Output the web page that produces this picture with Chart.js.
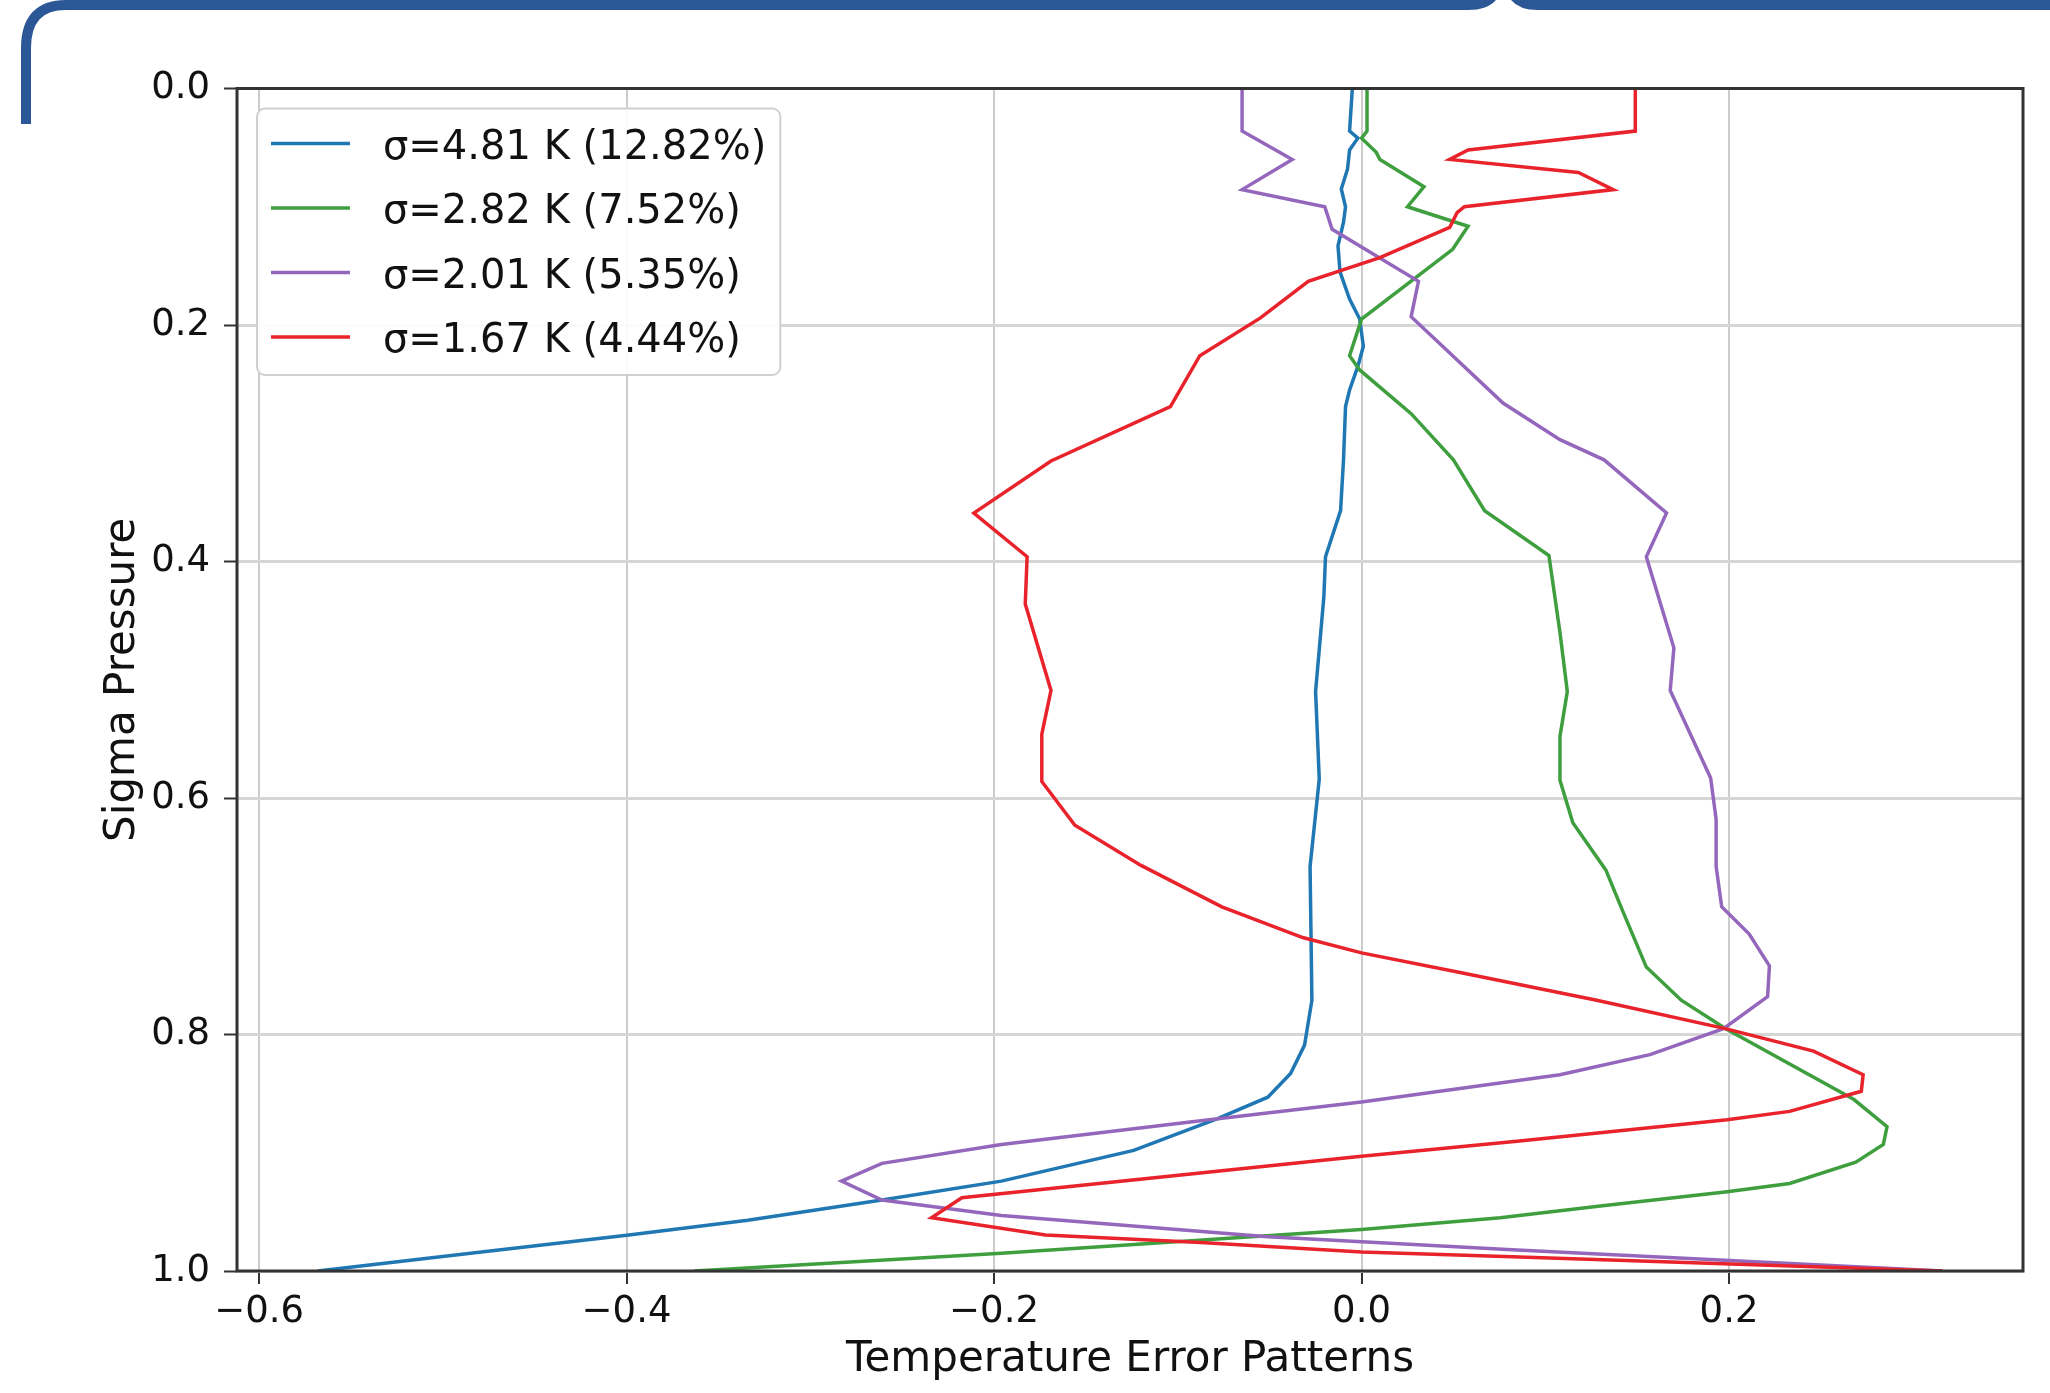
<!DOCTYPE html>
<html>
<head>
<meta charset="utf-8">
<title>Temperature error patterns</title>
<script src="https://cdn.jsdelivr.net/npm/chart.js@4.4.1/dist/chart.umd.min.js"></script>
<style>
  html, body { margin: 0; padding: 0; background: #fff; }
  #wrap { width: 2050px; height: 1393px; }
</style>
</head>
<body>
<div id="wrap"><canvas id="profile" width="2050" height="1393"></canvas></div>
<script>
// sigma levels and error values, one pair of arrays per pattern
const seriesLabels = ['σ=4.81 K (12.82%)', 'σ=2.82 K (7.52%)', 'σ=2.01 K (5.35%)', 'σ=1.67 K (4.44%)'];

const sigma481 = [0, 0.036, 0.042, 0.052, 0.068, 0.085, 0.100, 0.113, 0.133, 0.155, 0.178, 0.195, 0.218, 0.235, 0.255, 0.269, 0.314, 0.357, 0.396, 0.430, 0.510, 0.584, 0.658, 0.771, 0.809, 0.833, 0.853, 0.871, 0.898, 0.924, 0.940, 0.957, 0.970, 0.984, 1.0];
const err481 = [-0.005, -0.0065, -0.002, -0.0065, -0.0076, -0.011, -0.0087, -0.0098, -0.0128, -0.0117, -0.0065, -0.001, 0.001, -0.002, -0.0065, -0.0087, -0.0098, -0.0114, -0.0196, -0.0205, -0.025, -0.023, -0.028, -0.027, -0.031, -0.0386, -0.051, -0.078, -0.124, -0.196, -0.261, -0.334, -0.401, -0.479, -0.568];

const sigma282 = [0, 0.036, 0.042, 0.054, 0.060, 0.083, 0.100, 0.1165, 0.136, 0.195, 0.226, 0.238, 0.275, 0.314, 0.357, 0.395, 0.460, 0.510, 0.548, 0.585, 0.621, 0.661, 0.695, 0.743, 0.771, 0.795, 0.855, 0.878, 0.893, 0.908, 0.926, 0.933, 0.945, 0.955, 0.965, 0.985, 1.0];
const err282 = [0.003, 0.003, 0.0, 0.008, 0.010, 0.034, 0.025, 0.058, 0.0496, 0.0, -0.0065, -0.001, 0.027, 0.050, 0.067, 0.102, 0.108, 0.112, 0.108, 0.108, 0.115, 0.133, 0.142, 0.155, 0.174, 0.198, 0.268, 0.286, 0.284, 0.269, 0.233, 0.199, 0.130, 0.0755, 0.0, -0.196, -0.363];

const sigma201 = [0, 0.036, 0.060, 0.0855, 0.100, 0.119, 0.163, 0.193, 0.266, 0.297, 0.314, 0.359, 0.396, 0.473, 0.509, 0.583, 0.618, 0.658, 0.692, 0.715, 0.742, 0.768, 0.795, 0.817, 0.834, 0.857, 0.873, 0.893, 0.909, 0.924, 0.940, 0.953, 0.971, 0.982, 1.0];
const err201 = [-0.065, -0.065, -0.0377, -0.065, -0.020, -0.016, 0.031, 0.027, 0.077, 0.108, 0.132, 0.166, 0.155, 0.170, 0.168, 0.190, 0.193, 0.193, 0.196, 0.211, 0.222, 0.221, 0.197, 0.157, 0.108, 0.0, -0.0875, -0.196, -0.261, -0.283, -0.261, -0.196, -0.051, 0.082, 0.316];

const sigma167 = [0, 0.036, 0.052, 0.060, 0.071, 0.0855, 0.100, 0.105, 0.1175, 0.143, 0.163, 0.194, 0.226, 0.269, 0.315, 0.359, 0.396, 0.436, 0.509, 0.546, 0.586, 0.623, 0.657, 0.692, 0.718, 0.731, 0.748, 0.771, 0.795, 0.814, 0.834, 0.848, 0.865, 0.872, 0.890, 0.903, 0.938, 0.955, 0.9695, 0.976, 0.984, 0.988, 1.0];
const err167 = [0.149, 0.149, 0.058, 0.048, 0.118, 0.137, 0.056, 0.052, 0.048, 0.010, -0.029, -0.055, -0.088, -0.104, -0.169, -0.211, -0.182, -0.183, -0.169, -0.174, -0.174, -0.156, -0.120, -0.076, -0.032, 0.0, 0.055, 0.128, 0.198, 0.246, 0.273, 0.272, 0.233, 0.199, 0.086, 0.0, -0.2175, -0.234, -0.172, -0.0875, 0.0, 0.082, 0.316];

const xTickValues = [-0.6, -0.4, -0.2, 0.0, 0.2];
const yTickValues = [0.0, 0.2, 0.4, 0.6, 0.8, 1.0];

const lineColors = ['#1f77b4', '#3f9f3f', '#9467bd', '#e8232b'];

Chart.defaults.font.family = '"DejaVu Sans", sans-serif';
Chart.defaults.color = '#111';

function profile(levels, errors) {
  return levels.map((s, i) => ({ x: errors[i], y: s }));
}

function tickText(v) {
  return Number(v).toFixed(1).replace('-', '\u2212');
}

// blue slide frame along the top-left edge
const framePlugin = {
  id: 'frame',
  beforeDraw(chart) {
    const ctx = chart.ctx;
    ctx.save();
    ctx.fillStyle = '#fff';
    ctx.fillRect(0, 0, chart.width, chart.height);
    ctx.strokeStyle = '#2b5797';
    ctx.lineWidth = 10;
    ctx.beginPath();
    ctx.moveTo(26, 124);
    ctx.lineTo(26, 48);
    ctx.quadraticCurveTo(26, 5, 66, 5);
    ctx.lineTo(1468, 5);
    ctx.quadraticCurveTo(1488, 5, 1494, -6);
    ctx.stroke();
    ctx.beginPath();
    ctx.moveTo(1513, -6);
    ctx.quadraticCurveTo(1519, 5, 1538, 5);
    ctx.lineTo(2060, 5);
    ctx.stroke();
    ctx.restore();
  }
};

// box around the plot area
const spinesPlugin = {
  id: 'spines',
  afterDatasetsDraw(chart) {
    const { ctx, chartArea: a } = chart;
    ctx.save();
    ctx.strokeStyle = '#333';
    ctx.lineWidth = 3;
    ctx.strokeRect(a.left, a.top, a.right - a.left, a.bottom - a.top);
    ctx.restore();
  }
};

// legend drawn inside the upper left corner
const insetLegend = {
  id: 'insetLegend',
  afterDraw(chart) {
    const { ctx, chartArea: a } = chart;
    const sets = chart.data.datasets;
    ctx.save();
    ctx.font = '40px "DejaVu Sans"';
    const widest = Math.max(...sets.map(d => ctx.measureText(d.label).width));
    const left = a.left + 20;
    const top = a.top + 20;
    const rowH = 64.5;
    const w = 126 + widest + 14;
    const h = 35 + rowH * (sets.length - 1) + 38;
    ctx.beginPath();
    ctx.roundRect(left, top, w, h, 8);
    ctx.fillStyle = 'rgba(255,255,255,0.9)';
    ctx.fill();
    ctx.strokeStyle = '#d0d0d0';
    ctx.lineWidth = 2;
    ctx.stroke();
    sets.forEach((d, i) => {
      const y = top + 35 + i * rowH;
      ctx.strokeStyle = d.borderColor;
      ctx.lineWidth = 3.5;
      ctx.beginPath();
      ctx.moveTo(left + 14, y);
      ctx.lineTo(left + 93, y);
      ctx.stroke();
      ctx.fillStyle = '#111';
      ctx.textBaseline = 'middle';
      ctx.fillText(d.label, left + 126, y + 5);
    });
    ctx.restore();
  }
};

const datasets = [
  profile(sigma481, err481),
  profile(sigma282, err282),
  profile(sigma201, err201),
  profile(sigma167, err167)
].map((data, i) => ({
  label: seriesLabels[i],
  data,
  borderColor: lineColors[i],
  backgroundColor: lineColors[i],
  borderWidth: 3.5,
  pointRadius: 0,
  showLine: true,
  tension: 0,
  order: 3 - i
}));

new Chart(document.getElementById('profile'), {
  type: 'scatter',
  data: { datasets },
  options: {
    responsive: false,
    devicePixelRatio: 1,
    animation: false,
    events: [],
    layout: { padding: { left: 0, top: 88.5, right: 27, bottom: 0 } },
    plugins: { legend: { display: false }, tooltip: { enabled: false } },
    scales: {
      x: {
        type: 'linear',
        min: -0.612,
        max: 0.360,
        afterBuildTicks(scale) { scale.ticks = xTickValues.map(v => ({ value: v })); },
        afterFit(scale) { scale.height = 122; },
        grid: { color: '#cccccc', lineWidth: 2, tickColor: '#333', tickWidth: 2, tickLength: 13 },
        border: { display: false },
        ticks: { font: { size: 37 }, padding: 6, color: '#111', maxRotation: 0, callback: v => tickText(v) },
        title: { display: true, text: 'Temperature Error Patterns', font: { size: 42 }, color: '#111', padding: { top: 0, bottom: 8 } }
      },
      y: {
        type: 'linear',
        reverse: true,
        min: 0,
        max: 1,
        afterBuildTicks(scale) { scale.ticks = yTickValues.map(v => ({ value: v })); },
        afterFit(scale) { scale.width = 237; },
        grid: { color: '#d6d6d6', lineWidth: 3, tickColor: '#333', tickWidth: 2, tickLength: 13 },
        border: { display: false },
        ticks: { font: { size: 37 }, padding: 14, color: '#111', callback: v => tickText(v) },
        title: { display: true, text: 'Sigma Pressure', font: { size: 42 }, color: '#111', padding: { top: 98, bottom: 0 } }
      }
    }
  },
  plugins: [framePlugin, spinesPlugin, insetLegend]
});
</script>
</body>
</html>
